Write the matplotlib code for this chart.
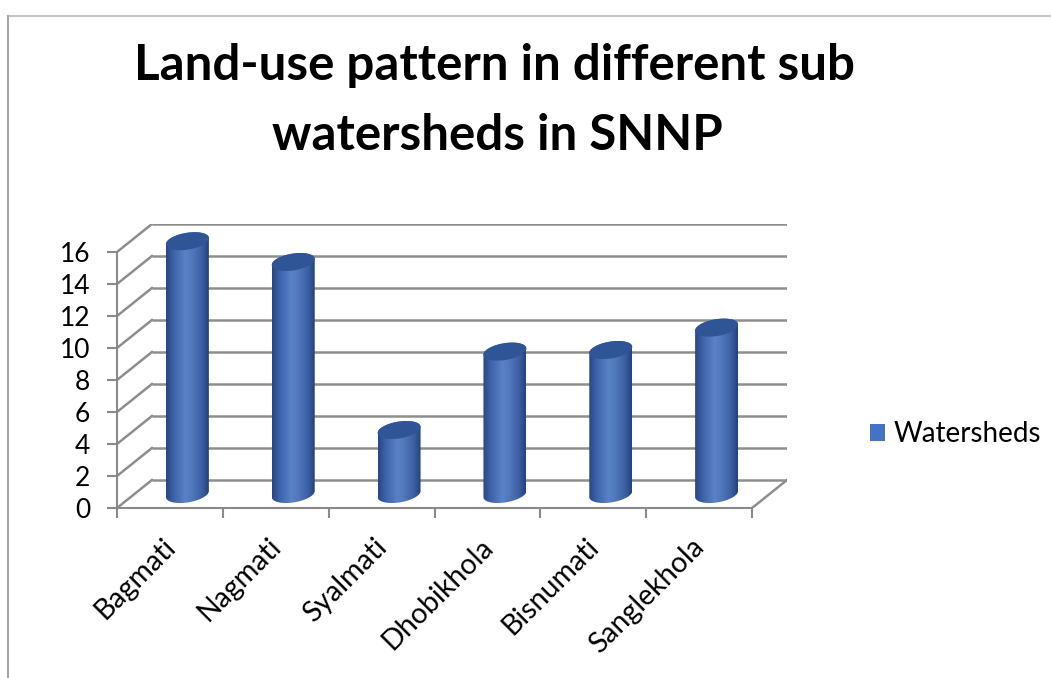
import numpy as np
import matplotlib
matplotlib.use("Agg")
import matplotlib.pyplot as plt
from matplotlib.path import Path
from matplotlib.patches import PathPatch, Patch
from matplotlib.colors import LinearSegmentedColormap
from matplotlib.lines import Line2D
from matplotlib.transforms import ScaledTranslation

watersheds = ["Bagmati", "Nagmati", "Syalmati", "Dhobikhola", "Bisnumati", "Sanglekhola"]
values = [15.8, 14.5, 4.0, 8.9, 9.0, 10.4]
yticks = [0, 2, 4, 6, 8, 10, 12, 14, 16]
series_name = "Watersheds"
title_lines = ["Land-use pattern in different sub", "watersheds in SNNP"]

plt.rcParams["font.family"] = ["Lato", "DejaVu Sans"]

W, H = 1051, 678
fig = plt.figure(figsize=(W / 100, H / 100), dpi=100)

# depth of the 3-D box in data units (category units, value units)
DX, DY = 0.33, 1.75
n = len(watersheds)
ymax = yticks[-1]
grid_c = "#8e8e8e"
axis_c = "#8a8a8a"

ax = fig.add_axes([117 / W, (H - 508) / H, 670 / W, 284 / H])
ax.set_xlim(-0.5, n - 0.5 + DX)
ax.set_ylim(0, ymax + DY)
ax.patch.set_visible(False)

# back wall, side wall and floor edge
for v in yticks:
    ax.plot([-0.5 + DX, n - 0.5 + DX], [v + DY, v + DY], color=grid_c, lw=1.8, zorder=1,
            solid_capstyle="butt")
    ax.plot([-0.5, -0.5 + DX], [v, v + DY], color=grid_c, lw=1.8, zorder=1)
ax.plot([n - 0.5, n - 0.5 + DX], [0, DY], color=grid_c, lw=1.8, zorder=1)

# cylinders
cyl_cmap = LinearSegmentedColormap.from_list(
    "cyl", [(0.0, "#27457f"), (0.15, "#3a5fa4"), (0.45, "#5a82c7"), (0.6, "#5379bd"),
            (0.85, "#3a5ea1"), (1.0, "#24417a")])
a = 0.203   # half width
b = 0.53    # half height of the end ellipses
s = 0.19    # tilt of the end ellipses
t = np.linspace(0, 2 * np.pi, 120)
grad = np.linspace(0, 1, 256).reshape(1, -1)

for i, v in enumerate(values):
    cx = i + DX / 2
    y0 = DY / 2
    y1 = v + DY / 2
    ex = cx + a * np.cos(t)
    ey = b * np.sin(t) + s * np.cos(t)
    # body: lower half of bottom ellipse, then upper half of top ellipse
    lo = (t >= np.pi)
    up = (t <= np.pi)
    bx = np.concatenate([ex[lo], ex[up]])
    by = np.concatenate([y0 + ey[lo], y1 + ey[up]])
    body = PathPatch(Path(np.column_stack([bx, by])), facecolor="none", edgecolor="none",
                     zorder=2)
    ax.add_patch(body)
    im = ax.imshow(grad, cmap=cyl_cmap, extent=[cx - a, cx + a, y0 - 1, y1 + 1],
                   aspect="auto", zorder=2, interpolation="bilinear")
    im.set_clip_path(body)
    ax.fill(ex, y1 + ey, color="#2f5597", lw=0, zorder=3)

ax.set_xlim(-0.5, n - 0.5 + DX)
ax.set_ylim(0, ymax + DY)

# axes
for side in ["top", "right"]:
    ax.spines[side].set_visible(False)
ax.spines["left"].set_bounds(0, ymax)
ax.spines["bottom"].set_bounds(-0.5, n - 0.5)
for side in ["left", "bottom"]:
    ax.spines[side].set_color(axis_c)
    ax.spines[side].set_linewidth(1.5)
    ax.spines[side].set_zorder(4)

ax.set_yticks(yticks)
ax.set_yticklabels([str(v) for v in yticks], fontsize=19)
ax.tick_params(axis="y", length=7.2, width=1.5, color=axis_c, pad=12)

ax.set_xticks(np.arange(n))
ax.set_xticklabels(watersheds, fontsize=20.5, rotation=45, ha="right", rotation_mode="anchor")
ax.set_xticks(np.arange(n + 1) - 0.5, minor=True)
ax.tick_params(axis="x", which="major", length=0, pad=14)
ax.tick_params(axis="x", which="minor", length=7.2, width=1.5, color=axis_c)
shift = ScaledTranslation(-0.08, -0.06, fig.dpi_scale_trans)
for lab in ax.get_xticklabels():
    lab.set_transform(lab.get_transform() + shift)

# title
fig.text(495 / W, 1 - 80 / H, title_lines[0], ha="center", va="baseline",
         fontsize=35.5, fontweight="bold")
fig.text(497 / W, 1 - 150 / H, title_lines[1], ha="center", va="baseline",
         fontsize=35.5, fontweight="bold")

# legend
fig.legend(handles=[Patch(facecolor="#4472c4", edgecolor="none", label=series_name)],
           loc="center left", bbox_to_anchor=(870 / W, 1 - 434 / H), frameon=False,
           fontsize=20, handlelength=0.55, handleheight=0.55, handletextpad=0.3,
           borderpad=0, borderaxespad=0)

# chart area border
fig.add_artist(Line2D([8 / W, 1], [1 - 16 / H, 1 - 16 / H], color="#c4c4c4", lw=1.5))
fig.add_artist(Line2D([8 / W, 8 / W], [0, 1 - 16 / H], color="#a8a8a8", lw=1.5))

fig.savefig("out.png", dpi=100)
